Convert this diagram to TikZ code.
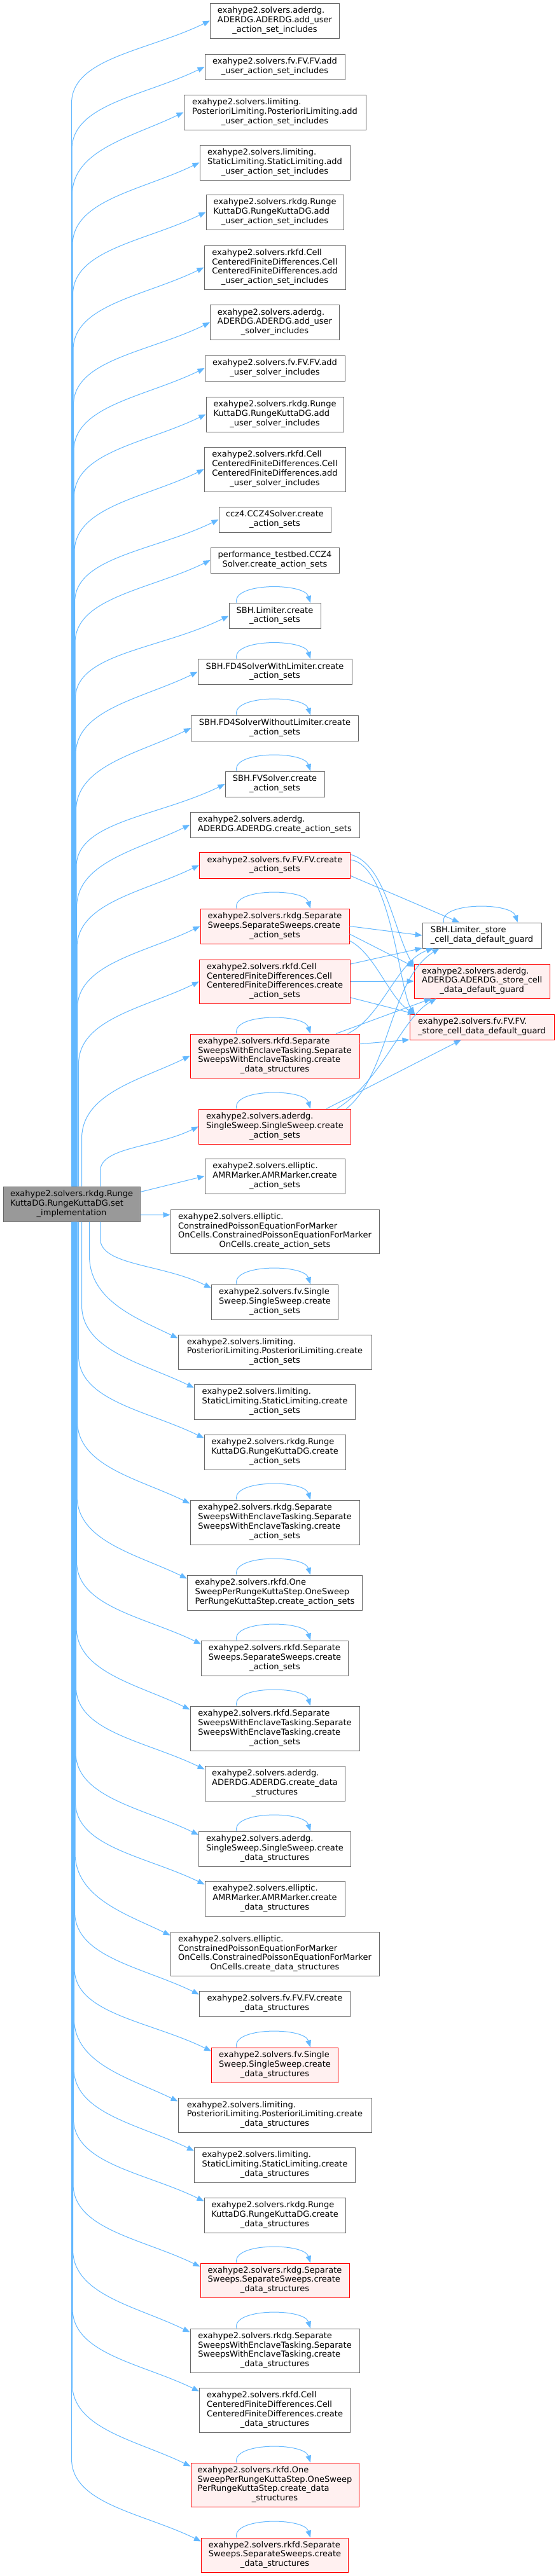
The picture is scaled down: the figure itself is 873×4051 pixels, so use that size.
\documentclass[tikz,border=0pt]{standalone}
\usepackage{fontspec}
\setmainfont{DejaVu Sans}
\usetikzlibrary{arrows.meta,calc}
\definecolor{eblue}{HTML}{63B8FF}
\definecolor{nbord}{HTML}{666666}
\definecolor{mfill}{HTML}{999999}
\definecolor{rfill}{HTML}{FFF0F0}
\newcommand\lbl[2]{\begin{tabular}{@{}l@{}}#1\\\multicolumn{1}{@{}c@{}}{#2}\end{tabular}}
\newcommand\nd[8]{\node[#6,minimum width=#4pt,minimum height=#5pt] (#1) at (#2,-#3) {\lbl{#7}{#8}};}
\tikzset{
  box/.style={draw=nbord,fill=white,line width=1pt,inner sep=0pt,font=\fontsize{13}{14.7}\selectfont},
  hot/.style={box,draw=red,fill=rfill},
  mainbox/.style={box,fill=mfill},
  edge/.style={draw=eblue,line width=1pt,-{Triangle[length=11pt,width=8.5pt]}},
}
\begin{document}
\begin{tikzpicture}[x=1pt,y=1pt]
\useasboundingbox (0,0) rectangle (873,-4051);
\fill[white] (0,0) rectangle (873,-4051);

\nd{main}{112.5}{1893.5}{215}{55}{mainbox}{exahype2.solvers.rkdg.Runge\\KuttaDG.RungeKuttaDG.set}{\_implementation}

\nd{N1}{432}{32.5}{203}{55}{box}{exahype2.solvers.aderdg.\\ADERDG.ADERDG.add\_user}{\_action\_set\_includes}
\nd{N2}{432}{105}{220}{40}{box}{exahype2.solvers.fv.FV.FV.add}{\_user\_action\_set\_includes}
\nd{N3}{432}{176.5}{286}{55}{box}{exahype2.solvers.limiting.\\PosterioriLimiting.PosterioriLimiting.add}{\_user\_action\_set\_includes}
\nd{N4}{432}{255.5}{236}{55}{box}{exahype2.solvers.limiting.\\StaticLimiting.StaticLimiting.add}{\_user\_action\_set\_includes}
\nd{N5}{432}{333.5}{216}{55}{box}{exahype2.solvers.rkdg.Runge\\KuttaDG.RungeKuttaDG.add}{\_user\_action\_set\_includes}
\nd{N6}{432}{420.5}{222}{69}{box}{exahype2.solvers.rkfd.Cell\\CenteredFiniteDifferences.Cell\\CenteredFiniteDifferences.add}{\_user\_action\_set\_includes}
\nd{N7}{432}{507}{203}{55}{box}{exahype2.solvers.aderdg.\\ADERDG.ADERDG.add\_user}{\_solver\_includes}
\nd{N8}{432}{579}{220}{40}{box}{exahype2.solvers.fv.FV.FV.add}{\_user\_solver\_includes}
\nd{N9}{432}{651.5}{216}{55}{box}{exahype2.solvers.rkdg.Runge\\KuttaDG.RungeKuttaDG.add}{\_user\_solver\_includes}
\nd{N10}{432}{738}{222}{70}{box}{exahype2.solvers.rkfd.Cell\\CenteredFiniteDifferences.Cell\\CenteredFiniteDifferences.add}{\_user\_solver\_includes}
\nd{N11}{432}{817}{176}{40}{box}{ccz4.CCZ4Solver.create}{\_action\_sets}
\nd{N12}{432}{881}{202}{40}{box}{performance\_testbed.CCZ4}{Solver.create\_action\_sets}
\nd{N13}{432}{968.5}{144}{40}{box}{SBH.Limiter.create}{\_action\_sets}
\nd{N14}{432}{1056.5}{242}{40}{box}{SBH.FD4SolverWithLimiter.create}{\_action\_sets}
\nd{N15}{432}{1145}{263}{40}{box}{SBH.FD4SolverWithoutLimiter.create}{\_action\_sets}
\nd{N16}{432}{1233}{156}{40}{box}{SBH.FVSolver.create}{\_action\_sets}
\nd{N17}{432}{1297}{266}{40}{box}{exahype2.solvers.aderdg.}{ADERDG.ADERDG.create\_action\_sets}
\nd{N18}{432}{1360.5}{237}{41}{hot}{exahype2.solvers.fv.FV.FV.create}{\_action\_sets}
\nd{N19}{432}{1456.5}{234}{55}{hot}{exahype2.solvers.rkdg.Separate\\Sweeps.SeparateSweeps.create}{\_action\_sets}
\nd{R1}{757.6}{1471}{187}{40}{box}{SBH.Limiter.\_store}{\_cell\_data\_default\_guard}
\nd{N20}{432}{1543.5}{237}{69}{hot}{exahype2.solvers.rkfd.Cell\\CenteredFiniteDifferences.Cell\\CenteredFiniteDifferences.create}{\_action\_sets}
\nd{R2}{757.6}{1543}{213}{54}{hot}{exahype2.solvers.aderdg.\\ADERDG.ADERDG.\_store\_cell}{\_data\_default\_guard}
\nd{R3}{757.5}{1615}{227}{40}{hot}{exahype2.solvers.fv.FV.FV.}{\_store\_cell\_data\_default\_guard}
\nd{N21}{432}{1660.5}{266}{69}{hot}{exahype2.solvers.rkfd.Separate\\SweepsWithEnclaveTasking.Separate\\SweepsWithEnclaveTasking.create}{\_data\_structures}
\nd{N22}{432}{1771.5}{239}{55}{hot}{exahype2.solvers.aderdg.\\SingleSweep.SingleSweep.create}{\_action\_sets}
\nd{N23}{432}{1849.5}{220}{55}{box}{exahype2.solvers.elliptic.\\AMRMarker.AMRMarker.create}{\_action\_sets}
\nd{N24}{432}{1936.5}{328}{69}{box}{exahype2.solvers.elliptic.\\ConstrainedPoissonEquationForMarker\\OnCells.ConstrainedPoissonEquationForMarker}{OnCells.create\_action\_sets}
\nd{N25}{432}{2047.5}{199}{55}{box}{exahype2.solvers.fv.Single\\Sweep.SingleSweep.create}{\_action\_sets}
\nd{N26}{432}{2126}{304}{54}{box}{exahype2.solvers.limiting.\\PosterioriLimiting.PosterioriLimiting.create}{\_action\_sets}
\nd{N27}{432}{2204.5}{253}{55}{box}{exahype2.solvers.limiting.\\StaticLimiting.StaticLimiting.create}{\_action\_sets}
\nd{N28}{432}{2283.5}{222}{55}{box}{exahype2.solvers.rkdg.Runge\\KuttaDG.RungeKuttaDG.create}{\_action\_sets}
\nd{N29}{432}{2394}{266}{70}{box}{exahype2.solvers.rkdg.Separate\\SweepsWithEnclaveTasking.Separate\\SweepsWithEnclaveTasking.create}{\_action\_sets}
\nd{N30}{432}{2504.5}{275}{55}{box}{exahype2.solvers.rkfd.One\\SweepPerRungeKuttaStep.OneSweep}{PerRungeKuttaStep.create\_action\_sets}
\nd{N31}{432}{2607.5}{231}{55}{box}{exahype2.solvers.rkfd.Separate\\Sweeps.SeparateSweeps.create}{\_action\_sets}
\nd{N32}{432}{2718}{266}{70}{box}{exahype2.solvers.rkfd.Separate\\SweepsWithEnclaveTasking.Separate\\SweepsWithEnclaveTasking.create}{\_action\_sets}
\nd{N33}{432}{2804.5}{220}{55}{box}{exahype2.solvers.aderdg.\\ADERDG.ADERDG.create\_data}{\_structures}
\nd{N34}{432}{2907.5}{239}{55}{box}{exahype2.solvers.aderdg.\\SingleSweep.SingleSweep.create}{\_data\_structures}
\nd{N35}{432}{2985.5}{220}{55}{box}{exahype2.solvers.elliptic.\\AMRMarker.AMRMarker.create}{\_data\_structures}
\nd{N36}{432}{3072.5}{328}{69}{box}{exahype2.solvers.elliptic.\\ConstrainedPoissonEquationForMarker\\OnCells.ConstrainedPoissonEquationForMarker}{OnCells.create\_data\_structures}
\nd{N37}{432}{3151}{237}{40}{box}{exahype2.solvers.fv.FV.FV.create}{\_data\_structures}
\nd{N38}{432}{3247.5}{199}{55}{hot}{exahype2.solvers.fv.Single\\Sweep.SingleSweep.create}{\_data\_structures}
\nd{N39}{432}{3326}{304}{54}{box}{exahype2.solvers.limiting.\\PosterioriLimiting.PosterioriLimiting.create}{\_data\_structures}
\nd{N40}{432}{3404.5}{253}{55}{box}{exahype2.solvers.limiting.\\StaticLimiting.StaticLimiting.create}{\_data\_structures}
\nd{N41}{432}{3483.5}{222}{55}{box}{exahype2.solvers.rkdg.Runge\\KuttaDG.RungeKuttaDG.create}{\_data\_structures}
\nd{N42}{432}{3586}{234}{54}{hot}{exahype2.solvers.rkdg.Separate\\Sweeps.SeparateSweeps.create}{\_data\_structures}
\nd{N43}{432}{3696.5}{266}{69}{box}{exahype2.solvers.rkdg.Separate\\SweepsWithEnclaveTasking.Separate\\SweepsWithEnclaveTasking.create}{\_data\_structures}
\nd{N44}{432}{3790}{237}{70}{box}{exahype2.solvers.rkfd.Cell\\CenteredFiniteDifferences.Cell\\CenteredFiniteDifferences.create}{\_data\_structures}
\nd{N45}{432}{3907.5}{264}{69}{hot}{exahype2.solvers.rkfd.One\\SweepPerRungeKuttaStep.OneSweep\\PerRungeKuttaStep.create\_data}{\_structures}
\nd{N46}{432}{4018}{231}{54}{hot}{exahype2.solvers.rkfd.Separate\\Sweeps.SeparateSweeps.create}{\_data\_structures}

% edges from main upward
\foreach \t/\s in {N1/0,N2/0.5,N3/1,N4/1.5,N5/2,N6/2.5,N7/3,N8/3.5,N9/4,N10/4.5,N11/5,N12/5.5,N13/6,N14/6.5,N15/7,N16/7.5,N17/8,N18/8.5,N19/9,N20/11,N21/16,N22/45}{
  \draw[edge] let \p1=([xshift=\s pt]main.north), \p2=(\t.west),
      \n1={min(130,0.75*abs(\y2-\y1))}, \n2={\x2-\x1} in
    ([xshift=\s pt]main.north) -- (\x1,{\y2-\n1})
    .. controls (\x1,{\y2-0.45*\n1}) and ({\x2-0.45*\n2},{\y2-0.22*\n2}) .. (\t.west);
}
% edges from main downward
\foreach \t/\s in {N25/45,N26/28,N27/16,N28/11,N29/9,N30/8.5,N31/8,N32/7.5,N33/7,N34/6.5,N35/6,N36/5.5,N37/5,N38/4.5,N39/4,N40/3.5,N41/3,N42/2.5,N43/2,N44/1.5,N45/1,N46/0}{
  \draw[edge] let \p1=([xshift=\s pt]main.south), \p2=([yshift=-6pt]\t.north west),
      \n1={min(130,0.75*abs(\y2-\y1))}, \n2={\x2-\x1} in
    ([xshift=\s pt]main.south) -- (\x1,{\y2+\n1})
    .. controls (\x1,{\y2+0.45*\n1}) and ({\x2-0.45*\n2},{\y2+0.22*\n2}) .. ([yshift=-6pt]\t.north west);
}
\draw[edge] (main.10) -- (N23.west);
\draw[edge] (main.-9) -- (N24.171);

% edges to the guard functions
\draw[edge] (N18.-8) -- (R1.150);
\draw[edge] (N18.8) .. controls (605,-1358) and (618,-1460) .. (R2.168);
\draw[edge] (N18.4) .. controls (615,-1360) and (628,-1560) .. (R3.169);
\draw[edge] (N19.east) -- (R1.west);
\draw[edge] (N19.-6) -- (R2.168);
\draw[edge] (N19.-11) .. controls (590,-1500) and (612,-1570) .. (R3.169);
\draw[edge] (N20.13) -- (R1.192);
\draw[edge] (N20.east) -- (R2.west);
\draw[edge] (N20.-12) -- (R3.169);
\draw[edge] (N21.17) .. controls (600,-1600) and (625,-1510) .. (R1.195);
\draw[edge] (N21.20) -- (R2.199);
\draw[edge] (N21.8) -- (R3.190);
\draw[edge] (N22.14) .. controls (612,-1690) and (612,-1540) .. (R1.197);
\draw[edge] (N22.16) .. controls (600,-1700) and (632,-1600) .. (R2.201);
\draw[edge] (N22.19) -- (R3.212);

% self loops
\foreach \t in {N13,N14,N15,N16,N19,N21,N22,N25,N29,N30,N31,N32,N34,N38,N42,N43,N45,N46,R1}{
  \draw[edge] ([xshift=-60pt]\t.north) .. controls +(-8,32) and +(-10,32) .. ([xshift=56pt]\t.north);
}
\end{tikzpicture}
\end{document}
